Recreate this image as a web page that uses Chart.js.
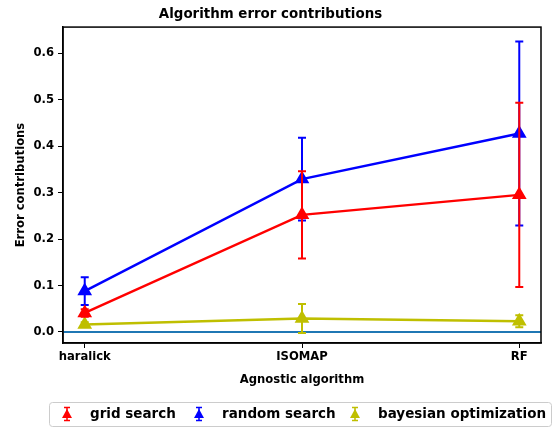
<!DOCTYPE html>
<html lang="en">
<head>
<meta charset="UTF-8">
<title>Algorithm error contributions</title>
<script src="https://cdn.jsdelivr.net/npm/chart.js"></script>
<style>
    body { margin: 0; background: #fff; }
    .chart-container { width: 553px; height: 428px; }
</style>
</head>
<body>
<div class="chart-container">
    <canvas id="errChart"></canvas>
</div>
<script>
    // data
    const categories = ['haralick', 'ISOMAP', 'RF'];
    const gridSearch = [0.041, 0.252, 0.295];
    const gridSearchErr = [0.008, 0.094, 0.198];
    const randomSearch = [0.088, 0.329, 0.427];
    const randomSearchErr = [0.030, 0.089, 0.198];
    const bayesOpt = [0.016, 0.029, 0.023];
    const bayesOptErr = [0.005, 0.031, 0.013];
    const yTicks = [0, 0.1, 0.2, 0.3, 0.4, 0.5, 0.6];

    const FONT = 'DejaVu Sans';

    function pts(vals) {
        return vals.map((v, i) => ({ x: i, y: v }));
    }

    function series(label, vals, errs, color) {
        return {
            label: label,
            data: pts(vals),
            errors: errs,
            borderColor: color,
            backgroundColor: color,
            borderWidth: 2.5,
            pointStyle: 'triangle',
            pointRadius: 6,
            pointHoverRadius: 6,
            tension: 0
        };
    }

    // matplotlib-like errorbars, drawn right after each series
    const errorBars = {
        id: 'errorBars',
        afterDatasetDraw(chart, args) {
            const ds = chart.data.datasets[args.index];
            if (!ds.errors) return;
            const x = chart.scales.x, y = chart.scales.y, ctx = chart.ctx;
            ctx.save();
            ctx.strokeStyle = ds.borderColor;
            ctx.lineWidth = 2;
            ds.data.forEach((p, i) => {
                const px = x.getPixelForValue(p.x);
                const top = y.getPixelForValue(p.y + ds.errors[i]);
                const bot = y.getPixelForValue(p.y - ds.errors[i]);
                ctx.beginPath();
                ctx.moveTo(px, top); ctx.lineTo(px, bot);
                ctx.moveTo(px - 4, top); ctx.lineTo(px + 4, top);
                ctx.moveTo(px - 4, bot); ctx.lineTo(px + 4, bot);
                ctx.stroke();
            });
            ctx.restore();
        }
    };

    function drawIcon(ctx, cx, cy, color) {
        ctx.save();
        ctx.strokeStyle = color; ctx.fillStyle = color; ctx.lineWidth = 1.5;
        ctx.beginPath();
        ctx.moveTo(cx, cy - 7); ctx.lineTo(cx, cy + 7);
        ctx.moveTo(cx - 3, cy - 6.5); ctx.lineTo(cx + 3, cy - 6.5);
        ctx.moveTo(cx - 3, cy + 6.5); ctx.lineTo(cx + 3, cy + 6.5);
        ctx.stroke();
        ctx.beginPath();
        ctx.moveTo(cx, cy - 5); ctx.lineTo(cx + 5, cy + 4); ctx.lineTo(cx - 5, cy + 4);
        ctx.closePath(); ctx.fill();
        ctx.restore();
    }

    // axes frame + boxed legend under the plot
    const frame = {
        id: 'frame',
        afterDraw(chart) {
            const a = chart.chartArea, ctx = chart.ctx;
            ctx.save();
            ctx.strokeStyle = '#000';
            ctx.lineWidth = 1.5;
            ctx.strokeRect(a.left, a.top, a.right - a.left, a.bottom - a.top);

            ctx.strokeStyle = '#cccccc';
            ctx.lineWidth = 1;
            ctx.beginPath();
            ctx.roundRect(49.5, 402.5, 502, 24, 3);
            ctx.stroke();

            const iconX = [67, 199, 355];
            const textX = [90, 222, 378];
            ctx.font = 'bold 13.5px "' + FONT + '"';
            ctx.textBaseline = 'middle';
            ctx.fillStyle = '#000';
            chart.data.datasets.forEach((ds, i) => {
                if (!ds.errors) return;
                drawIcon(ctx, iconX[i], 414, ds.borderColor);
                ctx.fillText(ds.label, textX[i], 414);
            });
            ctx.restore();
        }
    };

    const ctx = document.getElementById('errChart').getContext('2d');
    new Chart(ctx, {
        type: 'line',
        data: {
            datasets: [
                series('grid search', gridSearch, gridSearchErr, '#ff0000'),
                series('random search', randomSearch, randomSearchErr, '#0000ff'),
                series('bayesian optimization', bayesOpt, bayesOptErr, '#bfbf00'),
                {
                    label: 'zero',
                    data: [{ x: -0.1, y: 0 }, { x: 2.1, y: 0 }],
                    borderColor: '#1f77b4',
                    borderWidth: 2,
                    pointRadius: 0
                }
            ]
        },
        options: {
            responsive: true,
            maintainAspectRatio: false,
            animation: false,
            layout: { padding: { left: 0, right: 12, top: 0, bottom: 40 } },
            plugins: {
                title: {
                    display: true,
                    text: 'Algorithm error contributions',
                    color: '#000',
                    font: { family: FONT, size: 13.4, weight: 'bold' },
                    padding: { top: 6, bottom: 5 }
                },
                legend: { display: false },
                tooltip: { enabled: false }
            },
            scales: {
                x: {
                    type: 'linear',
                    min: -0.1,
                    max: 2.1,
                    afterBuildTicks(scale) {
                        scale.ticks = categories.map((c, i) => ({ value: i }));
                    },
                    afterFit(scale) { scale.height = 45; },
                    ticks: {
                        color: '#000',
                        font: { family: FONT, size: 11.6, weight: 'bold' },
                        padding: 2,
                        maxRotation: 0,
                        callback: v => categories[v]
                    },
                    grid: { drawOnChartArea: false, tickLength: 5, color: '#000', lineWidth: 1 },
                    border: { display: true, color: '#000', width: 1.5 },
                    title: {
                        display: true,
                        text: 'Agnostic algorithm',
                        color: '#000',
                        font: { family: FONT, size: 11.6, weight: 'bold' },
                        padding: { top: 2, bottom: 1 }
                    }
                },
                y: {
                    min: -0.0237,
                    max: 0.656,
                    afterBuildTicks(scale) {
                        scale.ticks = yTicks.map(v => ({ value: v }));
                    },
                    afterFit(scale) { scale.width = 63; },
                    ticks: {
                        color: '#000',
                        font: { family: FONT, size: 11.6, weight: 'bold' },
                        padding: 4,
                        callback: v => v.toFixed(1)
                    },
                    grid: { drawOnChartArea: false, tickLength: 5, color: '#000', lineWidth: 1 },
                    border: { display: true, color: '#000', width: 1.5 },
                    title: {
                        display: true,
                        text: 'Error contributions',
                        color: '#000',
                        font: { family: FONT, size: 11.6, weight: 'bold' },
                        padding: { top: 14, bottom: 6 }
                    }
                }
            }
        },
        plugins: [errorBars, frame]
    });
</script>
</body>
</html>
